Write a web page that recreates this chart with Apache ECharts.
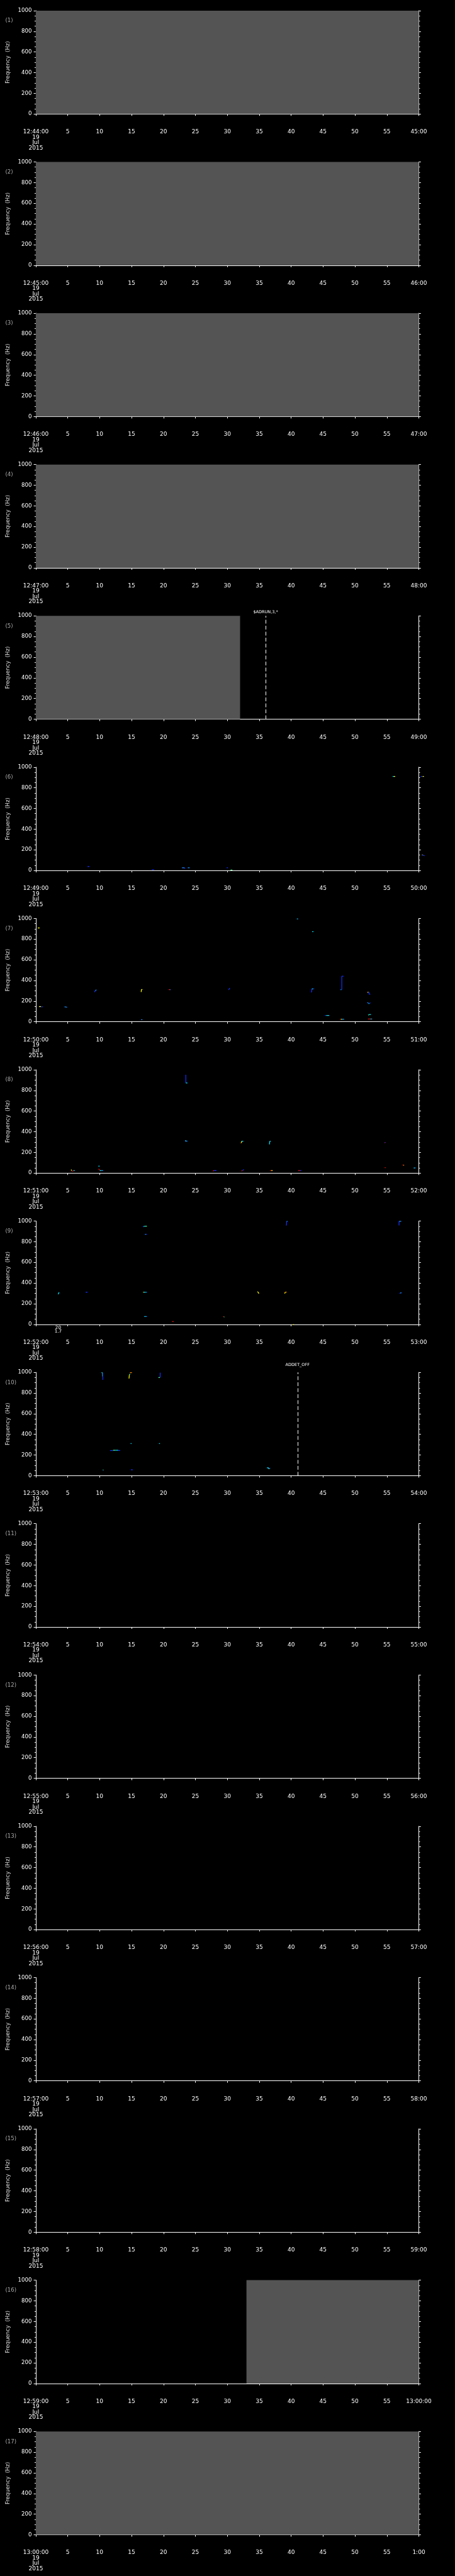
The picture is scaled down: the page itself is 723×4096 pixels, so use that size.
<!DOCTYPE html>
<html>
<head>
<meta charset="utf-8">
<script src="https://cdn.jsdelivr.net/npm/echarts@6/dist/echarts.min.js"></script>
<style>
  html, body { margin: 0; padding: 0; background: #000; }
  #chart { width: 723px; height: 4096px; }
</style>
</head>
<body>
<div id="chart"></div>
<script>
// tick labels of each one-minute panel
const startLabels = ['12:44:00', '12:45:00', '12:46:00', '12:47:00', '12:48:00', '12:49:00',
  '12:50:00', '12:51:00', '12:52:00', '12:53:00', '12:54:00', '12:55:00', '12:56:00',
  '12:57:00', '12:58:00', '12:59:00', '13:00:00'];
const endLabels = ['45:00', '46:00', '47:00', '48:00', '49:00', '50:00', '51:00', '52:00',
  '53:00', '54:00', '55:00', '56:00', '57:00', '58:00', '59:00', '13:00:00', '1:00'];
const dateLines = ['19', 'Jul', '2015'];

// grey "no data" spans: [panel, startSec, endSec]
const noData = [[0, 0, 60], [1, 0, 60], [2, 0, 60], [3, 0, 60], [4, 0, 32], [15, 33, 60], [16, 0, 60]];

// dashed event markers
const eventPanels = [4, 9];
const eventTimes = [36, 41];
const eventTexts = ['$ADRUN,3,*', 'ADDET_OFF'];

// small note under panel 9
const notePanels = [8];
const noteTimes = [3.5];
const noteTexts = ['20\n1.7'];

// spectrogram strokes: [t0, f0, t1, f1, colour]
const marks6 = [
  [8.1, 38, 8.4, 38, 'B'], [18.2, 8, 18.5, 8, 'B'], [22.9, 26, 23.3, 26, 'L'], [23.2, 22, 23.4, 22, 'B'],
  [23.8, 26, 24.1, 26, 'L'], [29.9, 26, 30.1, 26, 'B'], [30.5, 4, 30.8, 4, 'G'],
  [55.9, 910, 56.1, 910, 'C'], [56.1, 910, 56.3, 910, 'Y'],
  [60.3, 910, 60.6, 910, 'B'], [60.6, 910, 60.8, 910, 'Y'],
  [60.5, 150, 60.6, 150, 'Y'], [60.6, 150, 60.9, 143, 'B']
];
const marks7 = [
  [0.3, 908, 0.6, 908, 'Y'], [0.5, 147, 0.8, 147, 'Y'], [0.8, 145, 1.1, 145, 'B'],
  [4.5, 145, 4.9, 141, 'L'], [9.2, 288, 9.3, 300, 'B'], [9.3, 300, 9.5, 310, 'L'],
  [16.5, 288, 16.55, 312, 'Y'], [16.55, 312, 16.7, 312, 'Y'], [16.5, 20, 16.7, 20, 'L'],
  [20.8, 311, 21.0, 311, 'R'], [21.0, 311, 21.1, 311, 'L'], [30.2, 309, 30.4, 326, 'B'],
  [40.9, 995, 41.0, 995, 'C'], [41.0, 995, 41.1, 995, 'L'], [43.3, 872, 43.5, 872, 'C'],
  [43.1, 288, 43.2, 288, 'B'], [43.2, 288, 43.25, 318, 'B'], [43.25, 318, 43.45, 318, 'C'], [43.45, 319, 43.6, 319, 'B'],
  [45.3, 61, 45.5, 61, 'B'], [45.5, 61, 45.7, 61, 'C'], [45.7, 61, 45.85, 61, 'G'], [45.85, 61, 46.0, 61, 'L'],
  [47.65, 25, 47.8, 25, 'R'], [47.8, 25, 47.95, 25, 'Y'], [47.95, 25, 48.1, 25, 'C'], [48.1, 25, 48.3, 25, 'L'],
  [47.75, 311, 47.85, 311, 'C'], [47.85, 311, 47.95, 311, 'B'],
  [47.93, 311, 47.93, 441, 'B'], [47.93, 441, 48.2, 441, 'B'],
  [51.94, 283, 52.1, 288, 'Y'], [52.0, 288, 52.05, 288, 'R'], [52.2, 288, 52.2, 267, 'B'], [52.2, 267, 52.4, 267, 'B'],
  [51.94, 187, 52.1, 180, 'L'], [52.1, 176, 52.25, 176, 'C'], [52.25, 176, 52.4, 185, 'B'],
  [52.1, 63, 52.2, 70, 'G'], [52.2, 70, 52.5, 70, 'C'],
  [52.05, 27, 52.45, 27, 'R'], [52.45, 27, 52.6, 27, 'C'], [52.6, 27, 52.7, 27, 'L']
];
const marks8 = [
  [5.55, 34, 5.6, 22, 'Y'], [5.6, 20, 5.9, 20, 'R'], [5.9, 24, 6.1, 24, 'C'],
  [9.8, 67, 10.0, 67, 'C'], [9.8, 37, 9.95, 37, 'R'], [9.95, 35, 10.05, 25, 'R'],
  [10.05, 24, 10.3, 24, 'C'], [10.3, 24, 10.55, 24, 'L'],
  [23.5, 951, 23.5, 872, 'B'], [23.5, 872, 23.75, 872, 'C'],
  [23.4, 313, 23.55, 313, 'C'], [23.4, 309, 23.75, 309, 'L'],
  [27.7, 20, 27.9, 24, 'R'], [27.9, 24, 28.3, 24, 'B'],
  [32.2, 20, 32.4, 24, 'R'], [32.4, 27, 32.6, 33, 'B'],
  [32.1, 291, 32.2, 291, 'O'], [32.2, 293, 32.25, 308, 'Y'], [32.25, 308, 32.5, 308, 'C'],
  [36.6, 278, 36.65, 308, 'C'], [36.65, 308, 36.8, 308, 'C'],
  [36.7, 24, 36.9, 24, 'R'], [36.9, 24, 37.1, 24, 'Y'],
  [41.1, 24, 41.4, 24, 'R'], [41.4, 24, 41.6, 24, 'B'],
  [54.6, 294, 54.7, 294, 'R'], [54.7, 296, 54.8, 296, 'B'], [54.65, 53, 54.8, 53, 'R'],
  [57.45, 79, 57.55, 79, 'R'], [57.55, 76, 57.7, 76, 'O'],
  [59.2, 50, 59.35, 50, 'C'], [59.35, 50, 59.5, 50, 'L']
];
const marks9 = [
  [3.5, 292, 3.65, 311, 'C'], [7.8, 311, 8.1, 311, 'B'],
  [16.8, 943, 16.9, 949, 'B'], [16.9, 949, 17.1, 949, 'C'], [17.1, 950, 17.4, 950, 'G'],
  [17.1, 872, 17.25, 872, 'L'], [17.25, 872, 17.4, 872, 'B'],
  [16.8, 311, 16.95, 311, 'Y'], [16.95, 311, 17.2, 311, 'C'], [17.2, 311, 17.4, 311, 'L'],
  [17.0, 76, 17.2, 76, 'C'], [17.2, 76, 17.4, 76, 'L'], [21.35, 28, 21.6, 28, 'R'],
  [29.35, 77, 29.45, 73, 'R'], [29.45, 72, 29.55, 72, 'G'],
  [34.7, 315, 34.8, 315, 'Y'], [34.8, 313, 34.95, 298, 'Y'],
  [39.0, 298, 39.05, 311, 'Y'], [39.05, 312, 39.3, 312, 'O'],
  [39.25, 957, 39.3, 997, 'B'], [39.3, 997, 39.45, 997, 'L'], [40.3, -2, 40.45, -2, 'Y'],
  [56.9, 957, 56.9, 997, 'B'], [56.9, 997, 57.25, 997, 'L'],
  [57.0, 298, 57.1, 305, 'B'], [57.1, 305, 57.3, 305, 'L']
];
const marks10 = [
  [10.3, 997, 10.45, 997, 'C'], [10.45, 995, 10.45, 960, 'L'], [10.5, 960, 10.5, 927, 'B'],
  [14.6, 940, 14.65, 975, 'Y'], [14.65, 975, 14.75, 985, 'G'], [14.75, 997, 15.05, 997, 'O'],
  [19.2, 950, 19.45, 950, 'G'], [19.48, 950, 19.48, 997, 'B'],
  [11.65, 243, 12.1, 243, 'B'], [12.1, 246, 12.5, 246, 'G'], [12.5, 246, 12.9, 246, 'C'], [12.9, 244, 13.2, 244, 'B'],
  [14.85, 311, 15.0, 311, 'C'], [19.3, 311, 19.45, 311, 'C'],
  [10.5, 55, 10.6, 55, 'G'], [10.55, 52, 10.6, 52, 'B'], [14.9, 57, 15.2, 57, 'B'],
  [36.2, 76, 36.5, 76, 'C'], [36.4, 69, 36.7, 69, 'G'], [36.5, 72, 36.7, 72, 'B']
];
const marksByPanel = { 5: marks6, 6: marks7, 7: marks8, 8: marks9, 9: marks10 };

// jet-like colours of the spectrogram
const jet = { B: '#1430ff', L: '#1e90ff', C: '#00e8ff', G: '#50ff90', Y: '#ffff00', O: '#ff8c00', R: '#e01010' };

const FONT = 'DejaVu Sans';
const PANEL_H = 240.58;
const GRID_TOP = 16.9;
const GRID_H = 164.3;
const GRID_LEFT = 56.9;
const GRID_W = 608.6;

const chart = echarts.init(document.getElementById('chart'));

const grids = [];
const xAxes = [];
const yAxes = [];
const series = [];
const graphics = [];

for (let i = 0; i < startLabels.length; i++) {
  grids.push({ left: GRID_LEFT, width: GRID_W, top: i * PANEL_H + GRID_TOP, height: GRID_H });

  xAxes.push({
    gridIndex: i,
    type: 'value',
    min: 0,
    max: 60,
    interval: 5,
    position: 'bottom',
    offset: 16.9,
    axisLine: { show: true, lineStyle: { color: '#fff', width: 1 } },
    axisTick: { show: true, length: 3, inside: false, lineStyle: { color: '#fff' } },
    splitLine: { show: false },
    axisLabel: {
      color: '#fff',
      fontSize: 9,
      fontFamily: FONT,
      margin: 7.5,
      lineHeight: 8.5,
      showMinLabel: true,
      showMaxLabel: true,
      formatter: (v) => {
        if (v === 0) return [startLabels[i]].concat(dateLines).join('\n');
        if (v === 60) return endLabels[i];
        return String(v);
      }
    }
  });

  const yCommon = {
    gridIndex: i,
    type: 'value',
    min: 0,
    max: 1000,
    interval: 200,
    axisLine: { show: true, lineStyle: { color: '#fff', width: 1 } },
    axisTick: { show: true, length: 3.3, inside: false, lineStyle: { color: '#fff' } },
    minorTick: { show: true, splitNumber: 4, length: 1.9, lineStyle: { color: '#fff' } },
    splitLine: { show: false },
    minorSplitLine: { show: false }
  };
  yAxes.push(Object.assign({}, yCommon, {
    position: 'left',
    axisLabel: { color: '#fff', fontSize: 8.6, fontFamily: FONT, margin: 6.5, formatter: (v) => String(v) },
    name: 'Frequency  (Hz)',
    nameLocation: 'middle',
    nameGap: 36,
    nameTextStyle: { color: '#dddddd', fontSize: 8.6, fontFamily: FONT }
  }));
  yAxes.push(Object.assign({}, yCommon, {
    position: 'right',
    axisLabel: { show: false }
  }));

  graphics.push({
    type: 'text',
    x: 8.5,
    y: i * PANEL_H + 33.1,
    style: { text: '(' + (i + 1) + ')', fill: '#aaaaaa', fontSize: 8.5, fontFamily: FONT, verticalAlign: 'middle' }
  });
}

// grey spans without data
noData.forEach(([p, t0, t1]) => {
  series.push({
    type: 'custom',
    xAxisIndex: p,
    yAxisIndex: 2 * p,
    silent: true,
    data: [[t0, t1]],
    renderItem: (params, api) => {
      const a = api.coord([api.value(0), 1000]);
      const b = api.coord([api.value(1), 0]);
      return { type: 'rect', shape: { x: a[0], y: a[1], width: b[0] - a[0], height: b[1] - a[1] }, style: { fill: '#545454' } };
    }
  });
});

// spectrogram strokes
Object.keys(marksByPanel).forEach((key) => {
  const p = Number(key);
  const list = marksByPanel[key];
  series.push({
    type: 'custom',
    xAxisIndex: p,
    yAxisIndex: 2 * p,
    silent: true,
    clip: false,
    data: list.map((m) => [m[0], m[1], m[2], m[3]]),
    renderItem: (params, api) => {
      const a = api.coord([api.value(0), api.value(1)]);
      const b = api.coord([api.value(2), api.value(3)]);
      const col = jet[list[params.dataIndex][4]];
      return {
        type: 'line',
        shape: { x1: a[0], y1: a[1], x2: b[0] === a[0] && b[1] === a[1] ? b[0] + 1 : b[0], y2: b[1] },
        style: { stroke: col, lineWidth: 1.2 }
      };
    }
  });
});

// dashed event lines with their names
const labelLift = [2, 8.5];
eventPanels.forEach((p, k) => {
  series.push({
    type: 'line',
    xAxisIndex: p,
    yAxisIndex: 2 * p,
    data: [],
    markLine: {
      silent: true,
      symbol: ['none', 'none'],
      animation: false,
      lineStyle: { color: '#ffffff', type: [6, 3.5], width: 1 },
      label: { show: true, position: 'end', formatter: eventTexts[k], color: '#fff', fontSize: 6.5, fontFamily: FONT, distance: labelLift[k] },
      data: [{ xAxis: eventTimes[k] }]
    }
  });
});

// note under the plot
notePanels.forEach((p, k) => {
  series.push({
    type: 'custom',
    xAxisIndex: p,
    yAxisIndex: 2 * p,
    silent: true,
    clip: false,
    data: [[noteTimes[k], 0]],
    renderItem: (params, api) => {
      const a = api.coord([api.value(0), api.value(1)]);
      return {
        type: 'text',
        x: a[0],
        y: a[1] + 1.6,
        style: { text: noteTexts[k], fill: '#ffffff', fontSize: 7.2, fontFamily: FONT, align: 'center', verticalAlign: 'top', lineHeight: 6.6 }
      };
    }
  });
});

chart.setOption({
  backgroundColor: '#000000',
  animation: false,
  textStyle: { fontFamily: FONT },
  grid: grids,
  xAxis: xAxes,
  yAxis: yAxes,
  series: series,
  graphic: graphics
});
</script>
</body>
</html>
